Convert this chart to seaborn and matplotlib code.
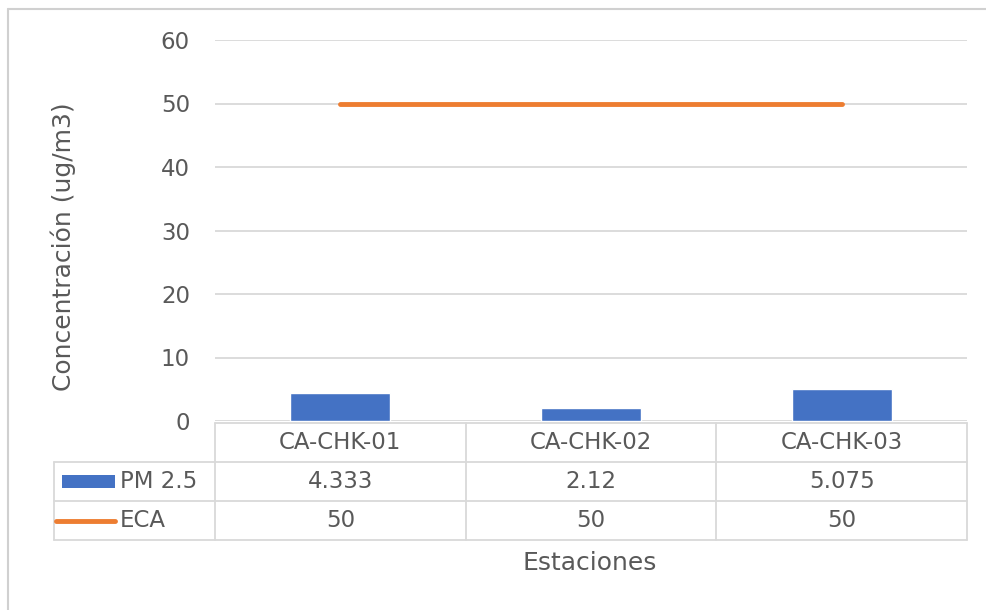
import numpy as np
import matplotlib
matplotlib.use("Agg")
import matplotlib.pyplot as plt
import seaborn as sns
from matplotlib.patches import Rectangle
from matplotlib.lines import Line2D

# Data
stations = ["CA-CHK-01", "CA-CHK-02", "CA-CHK-03"]
pm25 = [4.333, 2.12, 5.075]
eca = [50, 50, 50]
pm25_labels = ["4.333", "2.12", "5.075"]
eca_labels = ["50", "50", "50"]
series_names = ["PM 2.5", "ECA"]
y_ticks = [0, 10, 20, 30, 40, 50, 60]

BLUE = "#4472C4"
ORANGE = "#ED7D31"
GRID = "#D9D9D9"
TEXT = "#595959"
FS = 16.5

sns.set_theme(style="white")
plt.rcParams["font.family"] = ["DejaVu Sans"]

W, H = 986, 610
fig = plt.figure(figsize=(W / 100, H / 100), dpi=100)


def fx(px):
    return px / W


def fy(py):
    return 1 - py / H


# plot area in pixel coordinates
L, R, T, B = 215, 967, 40, 421
ax = fig.add_axes([fx(L), fy(B), fx(R) - fx(L), fy(T) - fy(B)])

sns.barplot(x=stations, y=pm25, color=BLUE, width=0.4, saturation=1, ax=ax, zorder=3)
sns.lineplot(x=np.arange(len(stations)), y=eca, color=ORANGE, linewidth=3.5, ax=ax, zorder=4)

ax.set_xlim(-0.5, len(stations) - 0.5)
ax.set_ylim(0, 60)
ax.set_yticks(y_ticks)
ax.set_yticklabels([str(t) for t in y_ticks], fontsize=FS, color=TEXT)
ax.tick_params(axis="y", length=0, pad=18)
ax.set_xticks([])
ax.set_xlabel("")
ax.set_ylabel("")
for s in ax.spines.values():
    s.set_visible(False)
ax.grid(axis="y", color=GRID, linewidth=1.3, zorder=0)
ax.set_axisbelow(True)

# Data table below the plot
tbl_top, row_h = 423, 39
col_edges = [L + (R - L) * i / len(stations) for i in range(len(stations) + 1)]
leg_left = 54
line_kw = dict(color=GRID, linewidth=1.3, transform=fig.transFigure)

# horizontal rules
fig.add_artist(Line2D([fx(L), fx(R)], [fy(tbl_top)] * 2, **line_kw))
for k in range(1, 4):
    yy = tbl_top + k * row_h
    fig.add_artist(Line2D([fx(leg_left), fx(R)], [fy(yy)] * 2, **line_kw))
# vertical rules
for xe in col_edges:
    fig.add_artist(Line2D([fx(xe)] * 2, [fy(tbl_top), fy(tbl_top + 3 * row_h)], **line_kw))
fig.add_artist(Line2D([fx(leg_left)] * 2, [fy(tbl_top + row_h), fy(tbl_top + 3 * row_h)], **line_kw))

centers = [(col_edges[i] + col_edges[i + 1]) / 2 for i in range(len(stations))]
for i, c in enumerate(centers):
    fig.text(fx(c), fy(tbl_top + row_h / 2), stations[i], ha="center", va="center",
             fontsize=FS, color=TEXT)
    fig.text(fx(c), fy(tbl_top + 1.5 * row_h), pm25_labels[i], ha="center", va="center",
             fontsize=FS, color=TEXT)
    fig.text(fx(c), fy(tbl_top + 2.5 * row_h), eca_labels[i], ha="center", va="center",
             fontsize=FS, color=TEXT)

# legend keys in the table
y1 = tbl_top + 1.5 * row_h
fig.add_artist(Rectangle((fx(62), fy(y1 + 6)), fx(115) - fx(62), fy(y1 - 6) - fy(y1 + 6),
                         facecolor=BLUE, edgecolor="none", transform=fig.transFigure))
fig.text(fx(120), fy(y1), series_names[0], ha="left", va="center", fontsize=FS, color=TEXT)
y2 = tbl_top + 2.5 * row_h
fig.add_artist(Line2D([fx(56), fx(115)], [fy(y2)] * 2, color=ORANGE, linewidth=3.5,
                      transform=fig.transFigure))
fig.text(fx(120), fy(y2), series_names[1], ha="left", va="center", fontsize=FS, color=TEXT)

# axis titles
fig.text(fx(63), fy(247), "Concentración (ug/m3)", rotation=90, ha="center", va="center",
         fontsize=18, color=TEXT)
fig.text(fx(590), fy(563), "Estaciones", ha="center", va="center", fontsize=18, color=TEXT)

# chart frame
fig.add_artist(Line2D([fx(8), fx(986)], [fy(9)] * 2, color="#D0D0D0", linewidth=1.5,
                      transform=fig.transFigure))
fig.add_artist(Line2D([fx(8)] * 2, [fy(9), fy(610)], color="#D0D0D0", linewidth=1.5,
                      transform=fig.transFigure))

fig.savefig("out.png", dpi=100)
